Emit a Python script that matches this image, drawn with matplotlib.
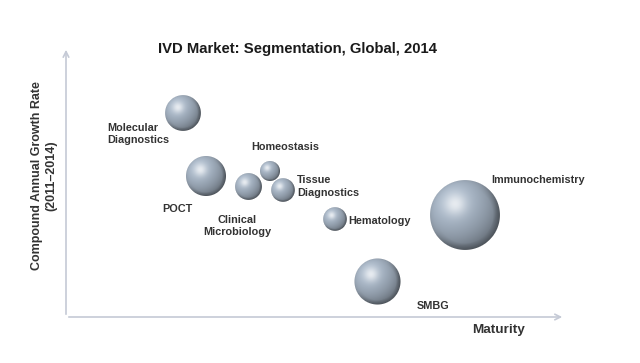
import numpy as np
import matplotlib
matplotlib.use("Agg")
import matplotlib.pyplot as plt
from matplotlib.offsetbox import OffsetImage, AnnotationBbox

plt.rcParams['font.family'] = ['Liberation Sans', 'DejaVu Sans']

# segmenti: maturita' (x), crescita CAGR (y), dimensione mercato (area bolla)
segmenti = ["Molecular Diagnostics", "POCT", "Clinical Microbiology", "Homeostasis",
            "Tissue Diagnostics", "Hematology", "Immunochemistry", "SMBG"]
maturita = [23.4, 28.0, 36.5, 40.9, 43.5, 53.9, 80.0, 62.5]
crescita = [75.6, 52.2, 48.5, 54.1, 47.0, 36.3, 37.8, 13.0]
dimensione = [32, 40, 18, 10, 14, 14, 122, 53]

etichette = ["Molecular\nDiagnostics", "POCT", "Clinical\nMicrobiology", "Homeostasis",
             "Tissue\nDiagnostics", "Hematology", "Immunochemistry", "SMBG"]
# posizione etichette (x, y, allineamento)
pos_etichette = [(8.2, 67.8, 'left'), (22.4, 40.0, 'center'), (34.3, 33.7, 'center'),
                 (43.9, 63.0, 'center'), (46.3, 48.3, 'left'), (56.5, 35.6, 'left'),
                 (85.2, 50.7, 'left'), (70.3, 4.1, 'left')]

W, H, DPI = 640, 363, 100
fig = plt.figure(figsize=(W / DPI, H / DPI), dpi=DPI)
ax = fig.add_axes([66 / W, (H - 317) / H, (565 - 66) / W, (317 - 47) / H])
ax.set_xlim(0, 100)
ax.set_ylim(0, 100)
ax.axis('off')

# sfera sfumata come immagine
def sfera(r):
    n = int(np.ceil(2 * r)) + 4
    c = (n - 1) / 2
    yy, xx = np.mgrid[0:n, 0:n]
    x = (xx - c) / r
    y = -(yy - c) / r
    d = np.sqrt(x ** 2 + y ** 2)
    alpha = np.clip((1 - d) * r + 0.5, 0, 1)
    z = np.sqrt(np.clip(1 - d ** 2, 0, 1))
    L = np.array([-0.4, 0.45, 0.8])
    L = L / np.linalg.norm(L)
    diff = np.clip(x * L[0] + y * L[1] + z * L[2], 0, 1)
    base = np.array([168, 182, 198]) / 255
    col = base[None, None, :] * (0.68 + 0.36 * diff[..., None])
    spec = np.exp(-((x + 0.28) ** 2 + (y - 0.32) ** 2) / 0.1)
    col = col + (1 - col) * 0.7 * spec[..., None]
    # bordo scuro in basso a destra
    rim = np.clip((d - 0.8) / 0.2, 0, 1) * np.clip((x - y) / 1.4 + 0.3, 0, 1)
    col = col * (1 - 0.35 * rim[..., None])
    img = np.dstack([np.clip(col, 0, 1), alpha])
    return img

for mx, cg, dim in zip(maturita, crescita, dimensione):
    r = np.sqrt(dim * 10.0) * DPI / 100
    ab = AnnotationBbox(OffsetImage(sfera(r), zoom=1, dpi_cor=False), (mx, cg),
                        frameon=False, pad=0, box_alignment=(0.5, 0.5))
    ax.add_artist(ab)

for lab, (tx, ty, ha) in zip(etichette, pos_etichette):
    ax.text(tx, ty, lab, ha=ha, va='center', multialignment=ha, fontsize=7.8,
            fontweight='bold', color='#333333', linespacing=1.3)

# assi con freccia
colore_assi = '#c5cad6'
ax.annotate('', xy=(0, 1.0), xytext=(0, 0), xycoords='axes fraction',
            arrowprops=dict(arrowstyle='->', color=colore_assi, lw=1.2))
ax.annotate('', xy=(1.0, 0), xytext=(0, 0), xycoords='axes fraction',
            arrowprops=dict(arrowstyle='->', color=colore_assi, lw=1.2))

fig.text(297 / W, 1 - 49 / H, "IVD Market: Segmentation, Global, 2014", ha='center',
         va='center', fontsize=10.7, fontweight='bold', color='#1a1a1a')
ax.text(86.6, -4.8, "Maturity", ha='center', va='center', fontsize=9.7,
        fontweight='bold', color='#333333')
fig.text(44 / W, 1 - 176 / H, "Compound Annual Growth Rate\n(2011\u20132014)", rotation=90,
         ha='center', va='center', multialignment='center', fontsize=9,
         fontweight='bold', color='#333333', linespacing=1.2)

fig.savefig("out.png", dpi=DPI)
